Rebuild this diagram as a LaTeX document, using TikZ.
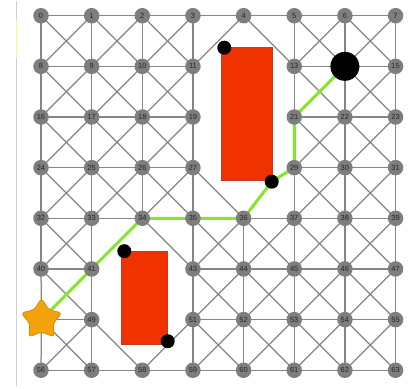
\documentclass[tikz,border=0pt]{standalone}
\usepackage{fontspec}
\setsansfont{Liberation Sans}
\usetikzlibrary{shapes.geometric}
\pgfdeclarelayer{bg}
\pgfsetlayers{bg,main}
\definecolor{nodegrey}{HTML}{7E7E7E}
\definecolor{linegrey}{HTML}{858585}
\definecolor{labelgrey}{HTML}{262626}
\definecolor{obst}{HTML}{F03200}
\definecolor{obstedge}{HTML}{C83A20}
\definecolor{pathgreen}{HTML}{86E62C}
\definecolor{starorange}{HTML}{F5A30C}
\definecolor{staredge}{HTML}{D88A00}
\newcommand\trylink[2]{%
  \pgfmathtruncatemacro\badsum{(#1==12)+(#1==20)+(#1==28)+(#1==42)+(#1==50)+(#2==12)+(#2==20)+(#2==28)+(#2==42)+(#2==50)+(#1==29)*(#2==36)}%
  \ifnum\badsum=0 \draw[gridline] (n#1.center) -- (n#2.center);\fi}
\tikzset{
  vert/.style={circle, fill=nodegrey, minimum size=15.5bp, inner sep=0pt,
    text=labelgrey, font=\sffamily\fontsize{7.5}{8}\selectfont},
  gridline/.style={draw=linegrey, line width=1.25bp},
  route/.style={draw=pathgreen, line width=3bp, line join=round},
  obstacle/.style={rectangle, fill=obst, draw=obstedge, line width=0.6bp, inner sep=0pt},
  cornerdot/.style={circle, fill=black, minimum size=14bp, inner sep=0pt},
  goal/.style={circle, fill=black, minimum size=29bp, inner sep=0pt},
  startstar/.style={star, star points=5, star point ratio=1.75, fill=starorange,
    draw=staredge, line width=0.8bp, minimum size=43bp, inner sep=0pt, rounded corners=3.5bp},
  artifact/.style={draw=black!18, line width=0.8bp}
}
\begin{document}
\begin{tikzpicture}[x=1bp,y=-1bp]
\useasboundingbox (0,0) rectangle (419,389);
% grid vertices
\foreach \r in {0,...,7}{\foreach \c in {0,...,7}{
  \pgfmathtruncatemacro\i{8*\r+\c}
  \pgfmathtruncatemacro\omitit{(\i==12)+(\i==20)+(\i==28)+(\i==42)+(\i==50)+(\i==14)+(\i==48)}
  \ifnum\omitit=0 \node[vert] (n\i) at ({41+50.65*\c},{15.7+50.65*\r}) {\i};\fi
}}
% obstacles
\node[obstacle, minimum width=51.3bp, minimum height=132.3bp] (r1) at (246.65,113.85) {};
\node[obstacle, minimum width=46bp, minimum height=92.3bp] (r2) at (144.7,297.85) {};
\node[cornerdot] (k1) at (224.3,47.7) {};
\node[cornerdot] (k2) at (271.7,181.7) {};
\node[cornerdot] (k3) at (124.3,251.2) {};
\node[cornerdot] (k4) at (167.7,341.2) {};
% goal and start
\node[goal] (n14) at ({41+50.65*6},{15.7+50.65*1}) {};
\node[startstar] (n48) at ({41.5},{15.7+50.65*6}) {};
\begin{pgfonlayer}{bg}
\fill[white] (0,0) rectangle (419,389);
\draw[artifact] (16,1) -- (16,386);
\draw[draw=yellow!45, line width=0.9bp] (16,20) -- (16,58);
\foreach \r in {0,...,7}{\foreach \c in {0,...,7}{
  \pgfmathtruncatemacro\i{8*\r+\c}
  \ifnum\c<7 \pgfmathtruncatemacro\j{\i+1}\trylink{\i}{\j}\fi
  \ifnum\r<7
    \pgfmathtruncatemacro\j{\i+8}\trylink{\i}{\j}
    \ifnum\c<7 \pgfmathtruncatemacro\j{\i+9}\trylink{\i}{\j}\fi
    \ifnum\c>0 \pgfmathtruncatemacro\j{\i+7}\trylink{\i}{\j}\fi
  \fi
}}
\draw[route] (n14.center) -- (n21.center) -- (n29.center) -- (k2.center) -- (n36.center)
  -- (n35.center) -- (n34.center) -- (n41.center) -- (n48.center);
\end{pgfonlayer}
\end{tikzpicture}
\end{document}
